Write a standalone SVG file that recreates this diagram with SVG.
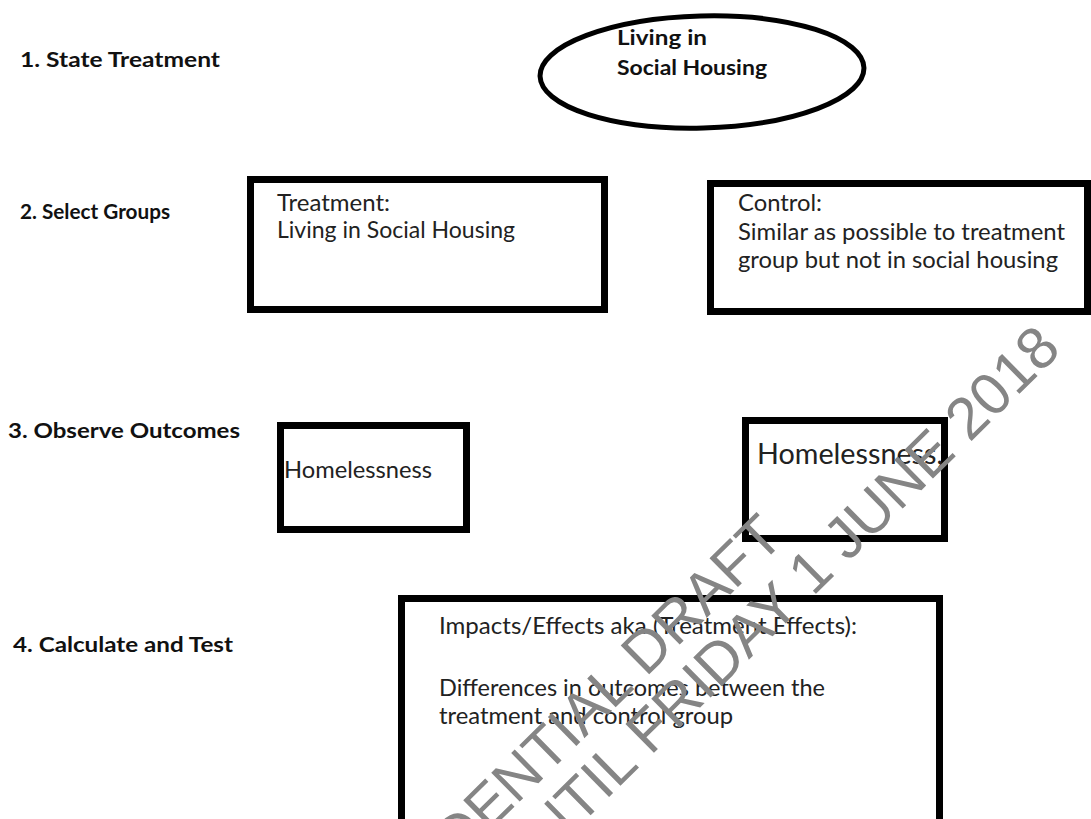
<svg xmlns="http://www.w3.org/2000/svg" width="1091" height="819" viewBox="0 0 1091 819">
<style>
  .bg{fill:#ffffff}
  .step{font-family:Lato,"Liberation Sans",sans-serif;font-weight:bold;font-size:21px;fill:#111}
  .lbl{font-family:Lato,"Liberation Sans",sans-serif;font-size:23px;fill:#222}
  .box{fill:#ffffff;stroke:#000;stroke-width:7}
  .oval{fill:#ffffff;stroke:#000;stroke-width:5}
  .wm{font-family:"Liberation Sans",Arial,sans-serif;font-size:59px;fill:#858585}
</style>
<rect class="bg" x="0" y="0" width="1091" height="819"/>

<g id="steps">
  <text class="step" x="20" y="67" textLength="200" lengthAdjust="spacingAndGlyphs">1. State Treatment</text>
  <text class="step" x="20" y="219" textLength="150" lengthAdjust="spacingAndGlyphs">2. Select Groups</text>
  <text class="step" x="8" y="438" textLength="232" lengthAdjust="spacingAndGlyphs">3. Observe Outcomes</text>
  <text class="step" x="13" y="652" textLength="220" lengthAdjust="spacingAndGlyphs">4. Calculate and Test</text>
</g>

<g id="connectors"></g>

<g id="treatment-oval">
  <ellipse class="oval" cx="702" cy="72" rx="162" ry="56" transform="rotate(-1.5 702 72)"/>
  <text class="step" x="617" y="45" textLength="90" lengthAdjust="spacingAndGlyphs">Living in</text>
  <text class="step" x="617" y="75" textLength="150" lengthAdjust="spacingAndGlyphs">Social Housing</text>
</g>

<g id="treatment-group">
  <rect class="box" x="250.5" y="179.5" width="354" height="130"/>
  <text class="lbl" x="277" y="211" textLength="113" lengthAdjust="spacingAndGlyphs">Treatment:</text>
  <text class="lbl" x="277" y="238" textLength="238" lengthAdjust="spacingAndGlyphs">Living in Social Housing</text>
</g>

<g id="control-group">
  <rect class="box" x="710.5" y="183.5" width="377" height="128"/>
  <text class="lbl" x="738" y="211" textLength="84" lengthAdjust="spacingAndGlyphs">Control:</text>
  <text class="lbl" x="738" y="240" textLength="327" lengthAdjust="spacingAndGlyphs">Similar as possible to treatment</text>
  <text class="lbl" x="738" y="268" textLength="320" lengthAdjust="spacingAndGlyphs">group but not in social housing</text>
</g>

<g id="outcome-treatment">
  <rect class="box" x="280.5" y="425.5" width="186" height="104"/>
  <text class="lbl" x="284" y="478" textLength="148" lengthAdjust="spacingAndGlyphs">Homelessness</text>
</g>

<g id="outcome-control">
  <rect class="box" x="745.5" y="420.5" width="199" height="118"/>
  <text class="lbl" x="757" y="464" style="font-size:28px" textLength="186" lengthAdjust="spacingAndGlyphs">Homelessness,</text>
</g>

<g id="impacts">
  <rect class="box" x="401.5" y="598.5" width="538" height="300"/>
  <text class="lbl" x="439" y="634" textLength="418" lengthAdjust="spacingAndGlyphs">Impacts/Effects aka (Treatment Effects):</text>
  <text class="lbl" x="439" y="696" textLength="386" lengthAdjust="spacingAndGlyphs">Differences in outcomes between the</text>
  <text class="lbl" x="439" y="724" textLength="294" lengthAdjust="spacingAndGlyphs">treatment and control group</text>
</g>

<g id="watermark">
  <text class="wm" text-anchor="end" transform="translate(786 540) rotate(-44.5)">CONFIDENTIAL DRAFT</text>
  <text class="wm" text-anchor="end" transform="translate(1063 351) rotate(-44.5)">UNTIL FRIDAY 1 JUNE 2018</text>
</g>
</svg>
